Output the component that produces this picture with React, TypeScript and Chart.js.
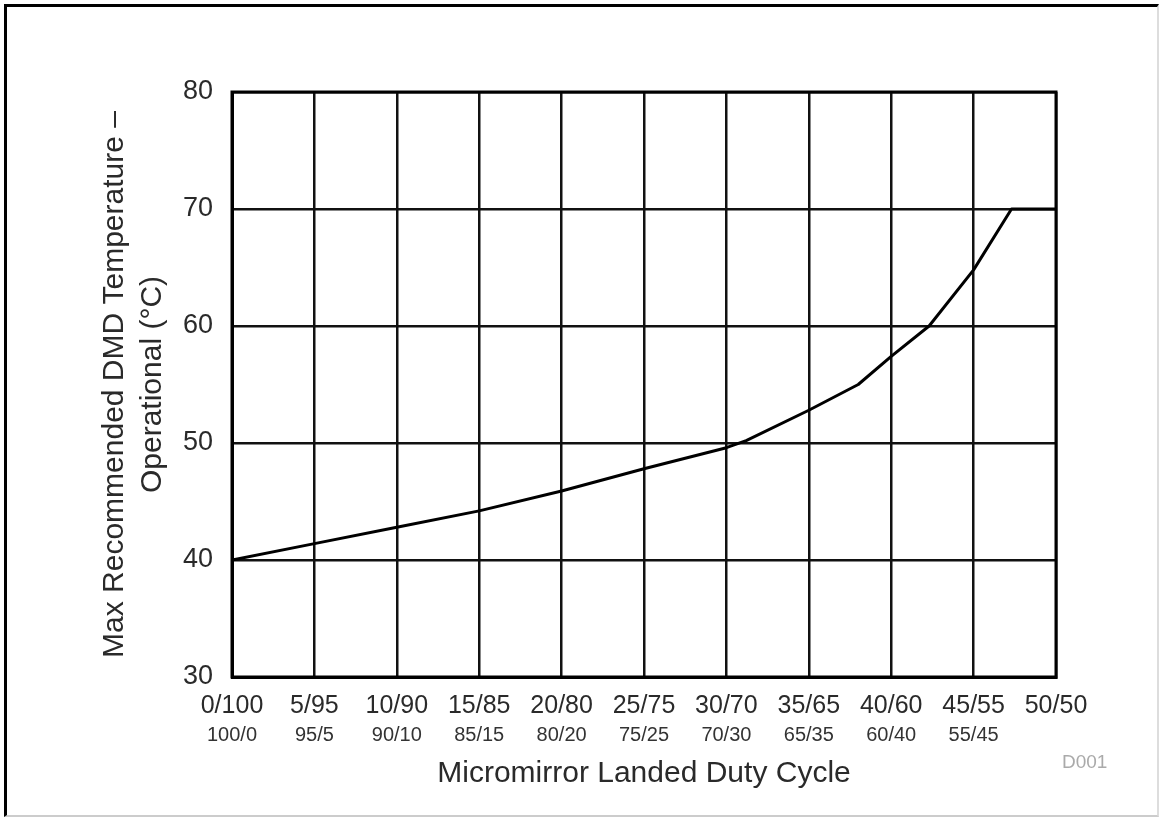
import React, { useEffect, useRef } from "react";
import { Chart, registerables } from "chart.js";

Chart.register(...registerables);

// Data
const dutyX = [0, 5, 10, 15, 20, 25, 30, 31.2, 35, 38, 40, 42.3, 45, 47.3, 50];
const tempY = [40, 41.4, 42.8, 44.2, 45.9, 47.8, 49.6, 50.2, 52.8, 55, 57.4, 60, 64.8, 70, 70];

const topTickLabels = ["0/100", "5/95", "10/90", "15/85", "20/80", "25/75", "30/70", "35/65", "40/60", "45/55", "50/50"];
const bottomTickLabels = ["100/0", "95/5", "90/10", "85/15", "80/20", "75/25", "70/30", "65/35", "60/40", "55/45", ""];

const yTitle = ["Max Recommended DMD Temperature –", "Operational (°C)"];
const xTitle = "Micromirror Landed Duty Cycle";
const noteText = "D001";

const FONT = "'Liberation Sans', Arial, Helvetica, sans-serif";

export default function App() {
  const ref = useRef<HTMLCanvasElement | null>(null);

  useEffect(() => {
    document.body.style.margin = "0";
    const canvas = ref.current;
    if (!canvas) return;
    const chart = new Chart(canvas, {
      type: "line",
      data: {
        datasets: [
          {
            data: dutyX.map((x, i) => ({ x, y: tempY[i] })),
            borderColor: "#000",
            borderWidth: 3,
            pointRadius: 0,
            tension: 0,
            borderJoinStyle: "round",
            fill: false,
          },
        ],
      },
      options: {
        responsive: false,
        animation: false,
        maintainAspectRatio: false,
        layout: { padding: { top: 92, right: 111, bottom: 0, left: 0 } },
        plugins: { legend: { display: false }, tooltip: { enabled: false } },
        scales: {
          x: {
            type: "linear",
            position: "bottom",
            min: 0,
            max: 50,
            ticks: {
              stepSize: 5,
              padding: 14,
              color: "#2a2a2a",
              font: { family: FONT, size: 25 },
              maxRotation: 0,
              autoSkip: false,
              callback: (_v: any, i: number) => topTickLabels[i],
            },
            grid: { color: "#111", lineWidth: 2.5, drawTicks: false },
            border: { color: "#000", width: 3 },
            afterFit: (s: any) => {
              s.height = 40;
            },
          },
          x2: {
            type: "linear",
            position: "bottom",
            min: 0,
            max: 50,
            ticks: {
              stepSize: 5,
              padding: 6,
              color: "#333",
              font: { family: FONT, size: 20 },
              maxRotation: 0,
              autoSkip: false,
              callback: (_v: any, i: number) => bottomTickLabels[i],
            },
            grid: { display: false, drawTicks: false },
            border: { display: false },
            title: {
              display: true,
              text: xTitle,
              color: "#2a2a2a",
              font: { family: FONT, size: 30 },
              padding: { top: 0, bottom: 26 },
            },
            afterFit: (s: any) => {
              s.height = 101;
            },
          },
          y: {
            min: 30,
            max: 80,
            ticks: {
              stepSize: 10,
              padding: 19,
              color: "#2a2a2a",
              font: { family: FONT, size: 27 },
            },
            grid: { color: "#111", lineWidth: 2.5, drawTicks: false },
            border: { color: "#000", width: 3 },
            title: {
              display: true,
              text: yTitle,
              color: "#2a2a2a",
              font: { family: FONT, size: 30, lineHeight: 1.25 },
              padding: { top: 96, bottom: 0 },
            },
            afterFit: (s: any) => {
              s.width = 232;
            },
          },
        },
      },
      plugins: [
        {
          id: "frame",
          afterDraw(c: any) {
            const { ctx, chartArea } = c;
            ctx.save();
            ctx.strokeStyle = "#000";
            ctx.lineWidth = 3;
            ctx.strokeRect(chartArea.left, chartArea.top, chartArea.right - chartArea.left, chartArea.bottom - chartArea.top);
            ctx.restore();
          },
        },
      ],
    } as any);
    return () => chart.destroy();
  }, []);

  return (
    <div style={{ position: "fixed", left: 0, top: 0, width: 1167, height: 818, background: "#fff" }}>
      <canvas ref={ref} width={1167} height={818} style={{ position: "absolute", left: 0, top: 0, width: 1167, height: 818 }} />
      <div
        style={{
          position: "absolute",
          left: 4,
          top: 4,
          width: 1155,
          height: 813,
          boxSizing: "border-box",
          borderLeft: "3px solid #000",
          borderTop: "3px solid #000",
          borderRight: "2px solid #ddd",
          borderBottom: "2px solid #ccc",
          pointerEvents: "none",
        }}
      />
      <div
        style={{
          position: "absolute",
          left: 1062,
          top: 751,
          fontFamily: FONT,
          fontSize: 19,
          color: "#aaa",
        }}
      >
        {noteText}
      </div>
    </div>
  );
}
